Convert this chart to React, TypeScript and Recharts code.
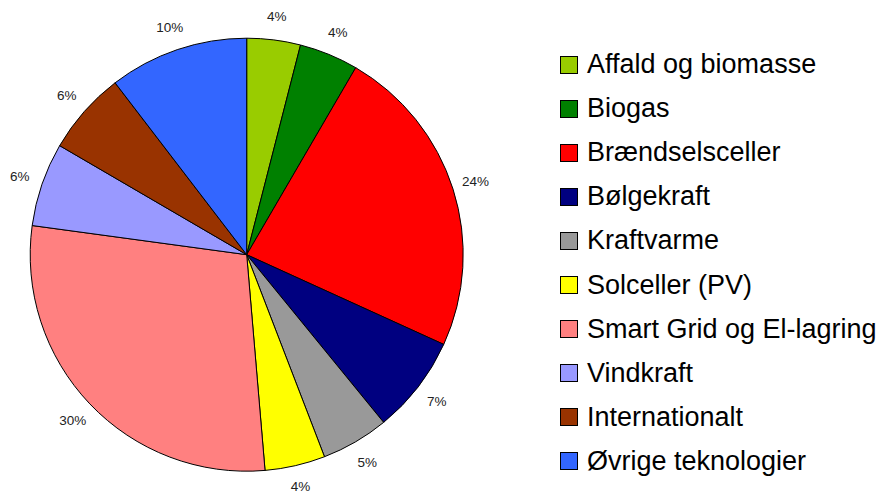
import React from 'react';
import { PieChart, Pie, Cell, Legend } from 'recharts';

const categories = [
  'Affald og biomasse',
  'Biogas',
  'Brændselsceller',
  'Bølgekraft',
  'Kraftvarme',
  'Solceller (PV)',
  'Smart Grid og El-lagring',
  'Vindkraft',
  'Internationalt',
  'Øvrige teknologier',
];
const shares = [4.0, 4.4, 23.4, 7.3, 5.05, 4.5, 28.5, 6.25, 6.2, 10.4];
const shareLabels = ['4%', '4%', '24%', '7%', '5%', '4%', '30%', '6%', '6%', '10%'];
const colors = [
  '#99cc00', '#008000', '#ff0000', '#000080', '#999999',
  '#ffff00', '#ff8080', '#9999ff', '#993300', '#3366ff',
];

const data = categories.map((name, i) => ({ name, value: shares[i] }));

const RADIAN = Math.PI / 180;

const renderLabel = (props: any) => {
  const { cx, cy, midAngle, index } = props;
  const r = 240;
  const x = cx + r * Math.cos(-midAngle * RADIAN);
  // keep the bottom label inside the picture
  const y = Math.min(cy + r * Math.sin(-midAngle * RADIAN), 486);
  return (
    <text x={x} y={y} fill="#222" fontSize={13.5} textAnchor="middle" dominantBaseline="central">
      {shareLabels[index]}
    </text>
  );
};

const renderLegend = () => (
  <div>
    {categories.map((name, i) => (
      <div key={name} style={{ display: 'flex', alignItems: 'center', height: 44.1 }}>
        <span
          style={{
            width: 16,
            height: 16,
            background: colors[i],
            border: '1px solid #000',
            marginRight: 9,
            display: 'inline-block',
          }}
        />
        <span style={{ fontSize: 27, color: '#000', whiteSpace: 'nowrap' }}>{name}</span>
      </div>
    ))}
  </div>
);

export default function App() {
  return (
    <div style={{ position: 'absolute', left: 0, top: 0, background: '#fff', fontFamily: '"Liberation Sans", Arial, sans-serif' }}>
      <PieChart width={880} height={492} margin={{ top: 0, right: 0, bottom: 0, left: 0 }}>
        <Pie
          data={data}
          dataKey="value"
          nameKey="name"
          cx={246.7}
          cy={254.7}
          outerRadius={216.5}
          startAngle={90}
          endAngle={-270}
          stroke="#000"
          strokeWidth={1}
          label={renderLabel}
          labelLine={false}
          isAnimationActive={false}
        >
          {data.map((d, i) => (
            <Cell key={d.name} fill={colors[i]} />
          ))}
        </Pie>
        <Legend
          content={renderLegend}
          wrapperStyle={{ position: 'absolute', left: 560, top: 42.5, width: 320 }}
        />
      </PieChart>
    </div>
  );
}
